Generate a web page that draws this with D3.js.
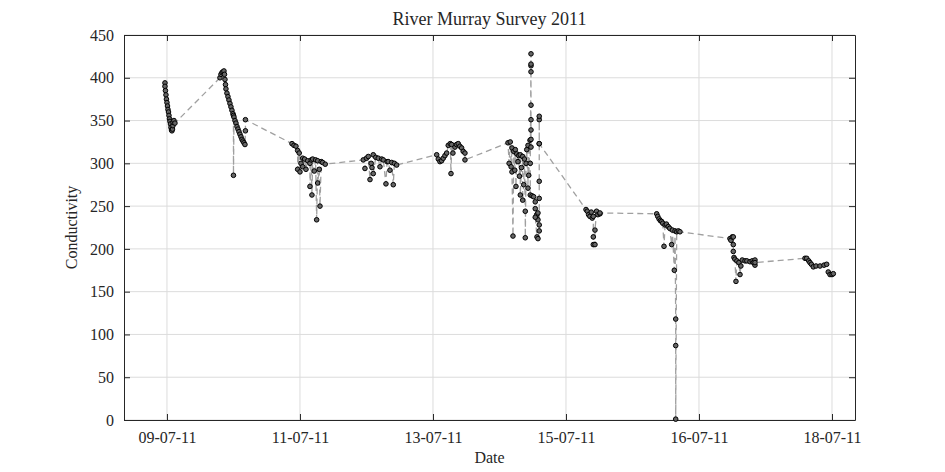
<html>
<script src="https://d3js.org/d3.v7.min.js"></script>
<style>
  body { margin:0; background:#fff; }
  text { font-family:"Liberation Serif","Times New Roman",serif; fill:#262626; }
</style>
<body>
<svg id="plot"></svg>
<script>

// survey time (day of July 2011) and conductivity, one pair per reading
var surveyDay = [
  // run 1
  8.970,8.970,8.977,8.985,8.992,9.000,9.008,9.015,9.023,9.030,9.038,9.045,9.053,9.060,9.068,9.075,9.083,9.090,9.090,9.105,9.120,
  // run 2
  9.797,9.812,9.827,9.842,9.857,9.865,9.872,9.880,9.887,9.902,9.917,9.932,9.947,9.962,9.977,9.992,10.000,10.000,10.008,10.023,10.038,10.053,10.068,10.083,10.098,10.113,10.128,10.143,10.158,10.173,10.180,10.180,
  // run 3
  10.880,10.910,10.940,10.965,10.965,10.989,11.000,11.015,11.041,11.041,11.070,11.090,11.116,11.150,11.150,11.170,11.180,11.191,11.215,11.235,11.251,11.266,11.266,11.290,11.301,11.320,11.341,11.380,
  // run 4
  11.952,11.977,12.000,12.027,12.053,12.070,12.083,12.102,12.102,12.140,12.177,12.203,12.230,12.253,12.293,12.310,12.327,12.353,12.380,12.403,12.420,12.454,
  // run 5
  13.056,13.080,13.105,13.130,13.155,13.180,13.206,13.230,13.260,13.271,13.281,13.300,13.331,13.355,13.380,13.405,13.431,13.455,13.481,13.481,
  // run 6
  14.128,14.145,14.162,14.175,14.188,14.188,14.203,14.215,14.230,14.238,14.248,14.260,14.278,14.290,14.300,14.313,14.313,14.330,14.349,14.349,
  14.364,14.375,14.388,14.388,14.400,14.410,14.429,14.429,14.440,14.459,14.474,14.474,14.474,14.474,14.474,14.474,14.474,14.474,14.474,
  14.463,14.463,14.490,14.514,14.538,14.538,14.560,14.579,14.579,14.538,14.564,14.579,14.598,14.598,14.598,14.598,14.598,14.598,14.598,14.598,
  // run 7
  15.301,15.320,15.340,15.360,15.380,15.395,15.411,15.411,15.411,15.436,15.436,15.460,15.480,15.511,15.511,
  // run 8
  16.364,16.380,16.400,16.420,16.439,16.455,16.474,16.490,16.510,16.538,16.560,16.589,16.600,16.629,16.640,16.650,16.650,16.650,16.665,16.690,16.714,
  // run 9
  17.466,17.480,17.500,17.516,17.516,17.516,17.526,17.540,17.556,17.570,17.600,17.617,17.630,17.650,17.692,17.720,17.767,17.800,17.817,17.842,17.842,17.842,
  // run 10
  18.594,18.620,18.650,18.669,18.690,18.719,18.760,18.820,18.880,18.920,18.944,18.970,19.000,19.020
];

var conductivity = [
  394,390,385,380,375,371,367,363,360,356,352,349,346,342,339,338,340,344,348,350,347,
  400,404,406,407,408,404,398,392,387,382,378,374,370,366,362,358,356,286,354,350,347,343,340,337,334,331,328,326,324,322,338,351,
  323,321,320,315,293,312,290,300,306,296,305,293,303,300,273,304,263,305,291,304,234,303,277,293,250,302,301,299,
  304,294,306,308,281,300,295,310,288,307,306,296,305,304,276,302,302,292,301,275,300,298,
  310,305,302,303,306,309,312,321,323,288,322,312,319,322,323,320,318,314,312,304,
  324,300,325,296,318,290,215,314,292,316,273,311,302,309,285,310,263,295,308,257,
  275,305,244,213,300,316,271,321,286,327,319,328,339,351,368,407,414,416,428,
  300,263,262,261,255,247,240,242,234,237,214,212,221,228,259,279,323,351,355,323,
  246,244,240,238,243,236,238,214,205,205,222,244,240,241,242,
  241,238,235,233,232,230,203,228,229,226,224,205,222,175,221,118,87,1,220,221,220,
  212,210,214,214,205,197,190,188,162,186,184,170,180,187,186,186,185,186,184,187,181,184,
  189,189,186,184,182,179,180,180,181,182,173,170,170,171
];

var xTicks = [9, 11, 13, 15, 17, 19];
var xTickLabels = ["09-07-11", "11-07-11", "13-07-11", "15-07-11", "16-07-11", "18-07-11"];
var yTicks = [0, 50, 100, 150, 200, 250, 300, 350, 400, 450];

var screen = {width:945, height:472};
var margins = {top:35, bottom:52, left:124, right:90};
var graph = {
    width:screen.width-margins.left-margins.right,
    height:screen.height-margins.top-margins.bottom
};

var svg = d3.select("#plot")
    .attr("width",screen.width)
    .attr("height",screen.height);

var xScale = d3.scaleLinear()
    .domain([8.354, 19.346])
    .range([0,graph.width]);

var yScale = d3.scaleLinear()
    .domain([0,450])
    .range([graph.height,0]);

var g = svg.append("g")
    .attr("transform","translate("+margins.left+","+margins.top+")");

// grid
g.append("g")
    .selectAll("line")
    .data(xTicks)
    .enter()
    .append("line")
    .attr("x1",function(d){ return xScale(d);})
    .attr("x2",function(d){ return xScale(d);})
    .attr("y1",0)
    .attr("y2",graph.height)
    .attr("stroke","#dcdcdc")
    .attr("stroke-width",1);

g.append("g")
    .selectAll("line")
    .data(yTicks)
    .enter()
    .append("line")
    .attr("x1",0)
    .attr("x2",graph.width)
    .attr("y1",function(d){ return yScale(d);})
    .attr("y2",function(d){ return yScale(d);})
    .attr("stroke","#dcdcdc")
    .attr("stroke-width",1);

// axes, ticks pointing inwards on all four sides
var xAxis = d3.axisBottom(xScale)
    .tickValues(xTicks)
    .tickSizeInner(-6).tickSizeOuter(0).tickPadding(12)
    .tickFormat(function(d,i){ return xTickLabels[i];});
var xTop = d3.axisTop(xScale)
    .tickValues(xTicks)
    .tickSizeInner(-6).tickSizeOuter(0)
    .tickFormat("");
var yAxis = d3.axisLeft(yScale)
    .tickValues(yTicks)
    .tickSizeInner(-6).tickSizeOuter(0).tickPadding(10);
var yRight = d3.axisRight(yScale)
    .tickValues(yTicks)
    .tickSizeInner(-6).tickSizeOuter(0)
    .tickFormat("");

var axes = g.append("g").classed("axes",true);
axes.append("g")
    .attr("transform","translate(0,"+graph.height+")")
    .call(xAxis);
axes.append("g").call(xTop);
axes.append("g").call(yAxis);
axes.append("g")
    .attr("transform","translate("+graph.width+",0)")
    .call(yRight);

axes.selectAll("path.domain").attr("stroke","#262626");
axes.selectAll(".tick line").attr("stroke","#262626");
axes.selectAll(".tick text")
    .style("font-family","'Liberation Serif',serif")
    .style("font-size","16px")
    .attr("fill","#262626");

// readings
var points = surveyDay.map(function(d,i){ return [d, conductivity[i]];});

var lineGenerator = d3.line()
    .x(function(p){ return xScale(p[0]);})
    .y(function(p){ return yScale(p[1]);});

g.append("path")
    .datum(points)
    .attr("d",lineGenerator)
    .attr("fill","none")
    .attr("stroke","#a0a0a0")
    .attr("stroke-width",1.3)
    .attr("stroke-dasharray","6,4");

g.append("g")
    .selectAll("circle")
    .data(points)
    .enter()
    .append("circle")
    .attr("cx",function(p){ return xScale(p[0]);})
    .attr("cy",function(p){ return yScale(p[1]);})
    .attr("r",2.3)
    .attr("fill","#666")
    .attr("stroke","#000")
    .attr("stroke-width",1);

// labels
svg.append("text")
    .text("River Murray Survey 2011")
    .attr("text-anchor","middle")
    .attr("x",margins.left+graph.width/2)
    .attr("y",25)
    .style("font-size","18px");

svg.append("text")
    .text("Date")
    .attr("text-anchor","middle")
    .attr("x",margins.left+graph.width/2)
    .attr("y",463)
    .style("font-size","16px");

svg.append("text")
    .text("Conductivity")
    .attr("text-anchor","middle")
    .attr("transform","translate(77,"+(margins.top+graph.height/2)+") rotate(-90)")
    .style("font-size","16px");

</script>
</body>
</html>
